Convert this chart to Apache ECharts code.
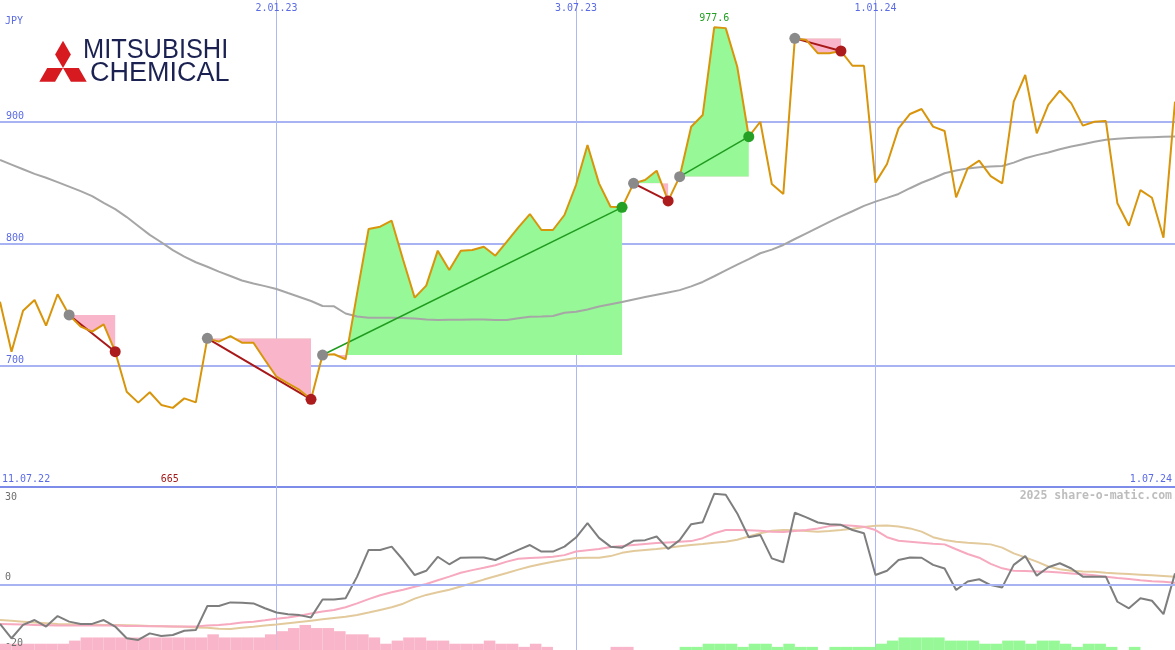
<!DOCTYPE html>
<html><head><meta charset="utf-8">
<script src="https://cdn.jsdelivr.net/npm/echarts@6/dist/echarts.min.js"></script>
<style>html,body{margin:0;padding:0;background:#fff}#c{width:1175px;height:650px}</style>
</head><body><div id="c"></div>
<script>
// weekly categories
const dates = ['18.07.22','25.07.22','1.08.22','8.08.22','15.08.22','22.08.22','29.08.22','5.09.22','12.09.22','19.09.22',
'26.09.22','3.10.22','10.10.22','17.10.22','24.10.22','31.10.22','7.11.22','14.11.22','21.11.22','28.11.22',
'5.12.22','12.12.22','19.12.22','26.12.22','2.01.23','9.01.23','16.01.23','23.01.23','30.01.23','6.02.23',
'13.02.23','20.02.23','27.02.23','6.03.23','13.03.23','20.03.23','27.03.23','3.04.23','10.04.23','17.04.23',
'24.04.23','1.05.23','8.05.23','15.05.23','22.05.23','29.05.23','5.06.23','12.06.23','19.06.23','26.06.23',
'3.07.23','10.07.23','17.07.23','24.07.23','31.07.23','7.08.23','14.08.23','21.08.23','28.08.23','4.09.23',
'11.09.23','18.09.23','25.09.23','2.10.23','9.10.23','16.10.23','23.10.23','30.10.23','6.11.23','13.11.23',
'20.11.23','27.11.23','4.12.23','11.12.23','18.12.23','25.12.23','1.01.24','8.01.24','15.01.24','22.01.24',
'29.01.24','5.02.24','12.02.24','19.02.24','26.02.24','4.03.24','11.03.24','18.03.24','25.03.24','1.04.24',
'8.04.24','15.04.24','22.04.24','29.04.24','6.05.24','13.05.24','20.05.24','27.05.24','3.06.24','10.06.24',
'17.06.24','24.06.24','1.07.24'];
const markDates = ['2.01.23','3.07.23','1.01.24'];
const priceTicks = [700, 800, 900];
const oscTicks = [-20, 0, 30];

// share price (JPY)
const price = [752.2,711.1,744.8,753.6,732.5,758.3,741.3,731.7,727.6,733.6,
711.1,678.3,669.3,677.8,667.4,665.0,672.8,669.5,722.1,719.4,
724.0,718.5,718.5,704.3,690.6,685.2,679.7,672.0,708.4,709.0,
704.9,759.0,811.9,813.8,818.7,786.4,755.5,765.4,794.1,778.2,
794.1,794.7,797.4,790.0,801.5,813.3,824.2,811.1,811.1,823.4,
848.0,880.9,849.4,830.2,829.7,849.4,852.2,859.8,835.0,854.9,
895.9,905.5,977.6,976.9,945.2,887.7,900.0,848.9,840.7,968.5,
967.1,956.2,956.2,958.1,946.0,946.0,850.0,865.3,894.6,906.4,
910.5,896.0,892.4,837.9,861.8,868.0,855.4,849.4,916.5,938.4,
890.5,913.8,925.5,915.1,896.8,900.0,900.6,833.0,814.6,843.9,
837.6,804.8,916.5];
// long moving average
const ma = [868.6,864.8,861.0,857.2,854.0,850.4,846.7,843.0,838.9,833.4,
828.2,821.7,814.4,807.1,801.0,794.5,789.2,784.6,780.9,776.9,
773.3,769.6,767.1,765.0,762.6,759.3,756.1,752.8,748.7,748.4,
742.5,740.0,739.1,739.1,739.1,738.8,738.3,737.6,737.2,737.3,
737.4,737.5,737.5,737.2,737.2,738.6,739.8,740.1,740.5,743.1,
743.9,745.8,748.2,750.1,752.0,754.0,756.0,757.9,759.8,761.7,
764.8,768.4,773.1,777.9,782.7,787.2,792.0,795.0,798.8,803.7,
808.4,813.1,817.8,822.3,826.5,830.9,834.4,837.5,840.7,845.4,
849.9,853.6,857.7,860.0,861.7,862.6,863.2,863.6,866.4,870.0,
872.6,874.8,877.4,879.7,881.6,883.5,885.3,886.0,886.6,887.0,
887.3,887.6,887.9];
// trend segments (start index, end index)
const segStart = [6, 18, 28, 55, 59, 69];
const segEnd   = [10, 27, 54, 58, 65, 73];

// oscillator panel
const osc = [-12.0,-16.4,-12.3,-10.8,-12.8,-9.6,-11.3,-12.0,-12.0,-10.8,
-12.8,-16.4,-16.9,-14.9,-15.7,-15.4,-14.1,-13.9,-6.5,-6.5,
-5.4,-5.5,-5.7,-7.2,-8.5,-9.0,-9.3,-10.0,-4.5,-4.5,
-4.1,2.5,10.7,10.7,11.7,7.6,3.0,4.3,8.6,6.3,
8.3,8.4,8.4,7.6,9.2,10.7,12.2,10.2,10.2,11.7,
14.5,18.9,14.4,11.7,11.4,13.5,13.7,14.8,11.0,13.7,
18.6,19.2,27.9,27.6,21.9,14.6,15.3,8.1,6.9,22.1,
20.7,19.1,18.6,18.4,16.8,15.8,3.0,4.3,7.6,8.4,
8.3,6.1,5.0,-1.6,1.0,1.7,-0.1,-0.8,6.1,8.8,
2.8,5.4,6.6,5.0,2.5,2.5,2.5,-5.2,-7.2,-4.1,
-4.9,-9.0,3.5];
const oscPink = [-12.0,-12.1,-12.2,-12.3,-12.4,-12.5,-12.5,-12.5,-12.5,-12.5,
-12.5,-12.6,-12.6,-12.7,-12.7,-12.8,-12.8,-12.8,-12.5,-12.3,
-12.0,-11.6,-11.3,-10.9,-10.4,-10.0,-9.5,-8.8,-8.2,-7.7,
-6.9,-5.7,-4.4,-3.2,-2.3,-1.5,-0.6,0.25,1.4,2.5,
3.7,4.5,5.2,6.0,7.1,8.0,8.2,8.4,8.6,9.1,
10.2,10.6,11.0,11.6,11.9,12.2,12.5,12.8,13.0,13.2,
13.4,14.3,15.8,16.8,16.8,16.7,16.6,16.3,16.2,16.5,
16.8,17.3,18.0,18.35,18.1,17.8,16.8,14.6,13.5,13.2,
12.9,12.6,12.4,10.9,9.45,8.3,6.4,5.05,4.3,4.2,
4.1,4.0,3.8,3.5,3.2,2.9,2.5,2.1,1.8,1.4,
1.1,0.9,0.66];
const oscTan = [-10.8,-11.0,-11.3,-11.6,-11.8,-12.0,-12.1,-12.2,-12.2,-12.3,
-12.3,-12.4,-12.5,-12.6,-12.7,-12.8,-12.9,-13.1,-13.2,-13.45,
-13.55,-13.2,-12.9,-12.5,-12.2,-11.8,-11.4,-11.0,-10.6,-10.2,
-9.8,-9.26,-8.5,-7.7,-6.9,-5.8,-4.25,-3.1,-2.3,-1.5,
-0.5,0.55,1.6,2.6,3.6,4.65,5.6,6.4,7.1,7.7,
8.2,8.3,8.3,8.8,9.8,10.4,10.7,11.0,11.4,11.8,
12.2,12.5,12.9,13.2,13.8,14.8,15.8,16.6,16.8,16.7,
16.5,16.3,16.5,16.8,17.2,17.7,18.1,18.2,17.9,17.3,
16.3,14.6,13.75,13.2,12.9,12.7,12.4,11.4,9.65,8.4,
7.1,5.6,4.75,4.3,4.1,4.0,3.7,3.5,3.3,3.1,
2.9,2.7,2.5];
// histogram (signed, between weekly points)
const hist = [-2,-2,-2,-2,-2,-2,-3,-4,-4,-4,
-4,-4,-4,-4,-4,-4,-4,-4,-5,-4,
-4,-4,-4,-5,-6,-7,-8,-7,-7,-6,
-5,-5,-4,-2,-3,-4,-4,-3,-3,-2,
-2,-2,-3,-2,-2,-1,-2,-1,0,0,
0,0,0,-1,-1,0,0,0,0,1,
1,2,2,2,1,2,2,1,2,1,
1,0,1,1,1,1,2,3,4,4,
4,4,3,3,3,2,2,3,3,2,
3,3,2,1,2,2,1,0,1,0,
0,0];

const mono = '"DejaVu Sans Mono", monospace';
const BLUE = '#5a6be4', GRID = '#a7b3f2', SEP = '#7d8ce8', VLINE = '#aeb9f3';
const GREEN_FILL = '#96f896', PINK_FILL = '#f9b5c9';
const NONE = 'rgba(0,0,0,0)';

const chart = echarts.init(document.getElementById('c'), null, {renderer: 'canvas'});

const vSplit = {show: true, interval: (i, v) => markDates.includes(v), lineStyle: {color: VLINE, width: 1}};

const series = [];
// fills between starting level and price
series.push({
  type: 'custom', xAxisIndex: 0, yAxisIndex: 0, silent: true, z: 1,
  data: segStart.map((s, k) => [s, price[s], k]),
  encode: {x: 0, y: 1},
  renderItem: function (params, api) {
    const k = api.value(2);
    const s = segStart[k], e = segEnd[k], lvl = price[s];
    const pts = [];
    for (let i = s; i <= e; i++) pts.push(api.coord([i, price[i]]));
    const pe = api.coord([e, lvl]), ps = api.coord([s, lvl]);
    pts.push(pe, ps);
    const ly = ps[1], W = api.getWidth(), H = api.getHeight();
    return {type: 'group', children: [
      {type: 'polygon', shape: {points: pts}, style: {fill: GREEN_FILL}, clipPath: {type: 'rect', shape: {x: 0, y: 0, width: W, height: ly}}},
      {type: 'polygon', shape: {points: pts}, style: {fill: PINK_FILL}, clipPath: {type: 'rect', shape: {x: 0, y: ly, width: W, height: H - ly}}}
    ]};
  }
});
series.push({type: 'line', xAxisIndex: 0, yAxisIndex: 0, data: ma, showSymbol: false, silent: true, z: 2,
  lineStyle: {color: '#a6a6a6', width: 2}});
segStart.forEach((s, k) => {
  const e = segEnd[k];
  const gain = price[e] > price[s];
  series.push({type: 'line', xAxisIndex: 0, yAxisIndex: 0, connectNulls: true, showSymbol: false, silent: true, z: 3,
    data: price.map((v, i) => (i === s || i === e) ? v : '-'),
    lineStyle: {color: gain ? '#1f9c1f' : '#a81818', width: gain ? 1.5 : 2}});
});
series.push({type: 'line', xAxisIndex: 0, yAxisIndex: 0, data: price, showSymbol: false, silent: true, z: 4,
  lineStyle: {color: '#d8950b', width: 2},
  markPoint: {symbol: 'circle', symbolSize: 0, silent: true, data: [{type: 'max'}],
    label: {show: true, position: 'top', distance: 4, color: '#23a023', fontFamily: mono, fontSize: 10,
      formatter: p => Number(p.value).toFixed(1)}}});
series.push({type: 'scatter', xAxisIndex: 0, yAxisIndex: 0, symbolSize: 11, z: 5, silent: true,
  data: segStart.map(s => [s, price[s]]), itemStyle: {color: '#8a8a8a', opacity: 1}});
series.push({type: 'scatter', xAxisIndex: 0, yAxisIndex: 0, symbolSize: 11, z: 5, silent: true,
  data: segEnd.map((e, k) => ({value: [e, price[e]], itemStyle: {color: price[e] > price[segStart[k]] ? '#24a024' : '#ac1c1c', opacity: 1}}))});

// lower panel
series.push({type: 'bar', xAxisIndex: 2, yAxisIndex: 2, silent: true, barWidth: '100%', barGap: '0%', barCategoryGap: '0%', z: 1,
  data: hist.map(v => ({value: Math.abs(v), itemStyle: {color: v < 0 ? PINK_FILL : GREEN_FILL}}))});
series.push({type: 'line', xAxisIndex: 1, yAxisIndex: 1, data: oscTan, showSymbol: false, silent: true, z: 2,
  lineStyle: {color: '#e3ca9c', width: 2}});
series.push({type: 'line', xAxisIndex: 1, yAxisIndex: 1, data: oscPink, showSymbol: false, silent: true, z: 3,
  lineStyle: {color: '#f6a9bf', width: 2}});
series.push({type: 'line', xAxisIndex: 1, yAxisIndex: 1, data: osc, showSymbol: false, silent: true, z: 4,
  lineStyle: {color: '#7e7e7e', width: 2}});

const option = {
  animation: false,
  backgroundColor: '#ffffff',
  grid: [
    {left: 0, right: 0, top: 0, height: 487},
    {left: 0, right: 0, top: 487, height: 163}
  ],
  xAxis: [
    {type: 'category', gridIndex: 0, data: dates, boundaryGap: false, position: 'top',
      axisLine: {show: false}, axisTick: {show: false},
      axisLabel: {inside: true, interval: (i, v) => markDates.includes(v), color: BLUE, fontFamily: mono, fontSize: 10, margin: 3},
      splitLine: vSplit},
    {type: 'category', gridIndex: 1, data: dates, boundaryGap: false,
      axisLine: {show: false}, axisTick: {show: false}, axisLabel: {show: false}, splitLine: vSplit},
    {type: 'category', gridIndex: 1, data: dates.slice(0, 102), boundaryGap: true, show: false,
      axisLine: {show: false}, axisTick: {show: false}, axisLabel: {show: false}, splitLine: {show: false}}
  ],
  yAxis: [
    {type: 'value', gridIndex: 0, min: 600, max: 1000, interval: 100,
      axisLine: {show: false}, axisTick: {show: false},
      axisLabel: {inside: true, verticalAlign: 'bottom', margin: 6, color: BLUE, fontFamily: mono, fontSize: 10,
        formatter: v => priceTicks.includes(v) ? String(v) : ''},
      splitLine: {show: true, lineStyle: {color: [SEP, GRID, GRID, GRID, NONE], width: 2}}},
    {type: 'value', gridIndex: 1, min: -20, max: 30, interval: 10, z: 6,
      axisLine: {show: false}, axisTick: {show: false},
      axisLabel: {inside: true, verticalAlign: 'bottom', verticalAlignMaxLabel: 'top', margin: 5, color: '#6e6e6e', fontFamily: mono, fontSize: 10,
        padding: [5, 0, 2, 0],
        formatter: v => oscTicks.includes(v) ? String(v) : ''},
      splitLine: {show: true, lineStyle: {color: [NONE, NONE, GRID, NONE, NONE, NONE], width: 2}}},
    {type: 'value', gridIndex: 1, min: 0, max: 52, show: false, splitLine: {show: false}}
  ],
  series: series
};
chart.setOption(option);

// annotations
let minIdx = 0;
price.forEach((v, i) => { if (v < price[minIdx]) minIdx = i; });
const minX = chart.convertToPixel({xAxisIndex: 0, yAxisIndex: 0}, [minIdx, price[minIdx]])[0];
const s3 = Math.sqrt(3), side = 15.8, cx = 63, cy = 68.1, hh = side * s3;
const red = '#d71920', navy = '#1b2252';
chart.setOption({
  graphic: [
    {type: 'text', left: 5, top: 16, silent: true, style: {text: 'JPY', fill: BLUE, font: '10px ' + mono}},
    {type: 'text', x: 2, y: 479, silent: true, style: {text: '11.07.22', fill: BLUE, font: '10px ' + mono, verticalAlign: 'middle'}},
    {type: 'text', x: 1172, y: 479, silent: true, style: {text: dates[dates.length - 1], fill: BLUE, font: '10px ' + mono, align: 'right', verticalAlign: 'middle'}},
    {type: 'text', x: minX - 3, y: 479, silent: true, style: {text: String(Math.round(price[minIdx])), fill: '#a51a1a', font: '10px ' + mono, align: 'center', verticalAlign: 'middle'}},
    {type: 'text', x: 1172, y: 496, silent: true, style: {text: '2025 share-o-matic.com', fill: '#bdbdbd', font: 'bold 11.5px ' + mono, align: 'right', verticalAlign: 'middle'}},
    // logo
    {type: 'polygon', silent: true, shape: {points: [[cx, cy], [cx + side / 2, cy - hh / 2], [cx, cy - hh], [cx - side / 2, cy - hh / 2]]}, style: {fill: red}},
    {type: 'polygon', silent: true, shape: {points: [[cx, cy], [cx - side, cy], [cx - side * 1.5, cy + hh / 2], [cx - side / 2, cy + hh / 2]]}, style: {fill: red}},
    {type: 'polygon', silent: true, shape: {points: [[cx, cy], [cx + side, cy], [cx + side * 1.5, cy + hh / 2], [cx + side / 2, cy + hh / 2]]}, style: {fill: red}},
    {type: 'text', x: 83, y: 50.5, scaleX: 0.94, silent: true, style: {text: 'MITSUBISHI', fill: navy, font: '27px "Liberation Sans", Arial, sans-serif', verticalAlign: 'middle'}},
    {type: 'text', x: 90, y: 73.5, silent: true, style: {text: 'CHEMICAL', fill: navy, font: '27px "Liberation Sans", Arial, sans-serif', verticalAlign: 'middle'}}
  ]
});
</script>
</body></html>
